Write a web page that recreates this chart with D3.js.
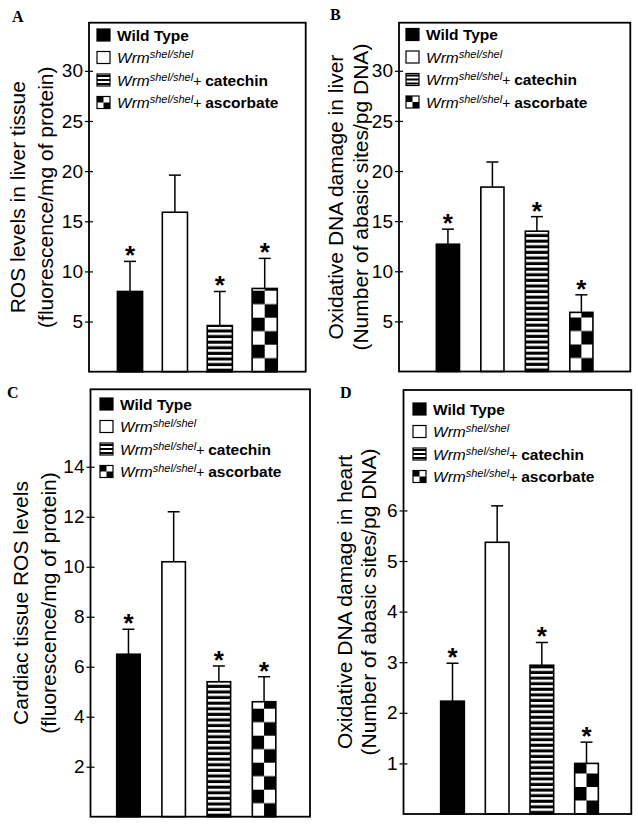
<!DOCTYPE html>
<html>
<meta charset="utf-8">
<head>
<title>ROS and oxidative DNA damage</title>
<script src="https://d3js.org/d3.v7.min.js"></script>
<style>
body { margin: 0; background: #fff; }
</style>
</head>
<body>
<div id="chart"></div>
<script>

// values
var groups = ["wt", "shel", "catechin", "ascorbate"];
var legendMain = ["Wild Type", "Wrm", "Wrm", "Wrm"];
var legendSup = ["", "shel/shel", "shel/shel", "shel/shel"];
var legendTail = ["", "", "catechin", "ascorbate"];

var liverRos = [8.0, 15.9, 4.6, 8.3];
var liverRosErr = [3.0, 3.7, 3.4, 3.0];
var liverDna = [12.7, 18.4, 14.0, 5.9];
var liverDnaErr = [1.5, 2.5, 1.45, 1.75];
var heartRos = [6.5, 10.2, 5.4, 4.6];
var heartRosErr = [1.0, 2.0, 0.63, 1.0];
var heartDna = [2.23, 5.37, 2.94, 1.0];
var heartDnaErr = [0.75, 0.72, 0.45, 0.42];
var starred = [true, false, true, true];

var liverTicks = [5, 10, 15, 20, 25, 30];
var heartRosTicks = [2, 4, 6, 8, 10, 12, 14];
var heartDnaTicks = [1, 2, 3, 4, 5, 6];

var panels = [
	{ id: "A", values: liverRos, err: liverRosErr, ticks: liverTicks, ymax: 34.8,
	  left: 89, top: 22.7, right: 305.7, bottom: 371.7, pi: 0.44, po: 0.633, align: 0.5,
	  label: ["ROS levels in liver tissue", "(fluorescence/mg of protein)"], labelX: [25, 53],
	  letter: [12, 22], legend: [97, 35] },
	{ id: "B", values: liverDna, err: liverDnaErr, ticks: liverTicks, ymax: 34.8,
	  left: 399, top: 22.7, right: 630.3, bottom: 371.5, pi: 0.48, po: 0.84, align: 0.5,
	  label: ["Oxidative DNA damage in liver", "(Number of abasic sites/pg DNA)"], labelX: [343, 368],
	  letter: [330, 20], legend: [406, 34.5] },
	{ id: "C", values: heartRos, err: heartRosErr, ticks: heartRosTicks, ymax: 17.1,
	  left: 90.5, top: 389.3, right: 310, bottom: 816.7, pi: 0.48, po: 0.668, align: 0.434,
	  label: ["Cardiac tissue ROS levels", "(fluorescence/mg of protein)"], labelX: [28, 56],
	  letter: [7, 398], legend: [100, 404] },
	{ id: "D", values: heartDna, err: heartDnaErr, ticks: heartDnaTicks, ymax: 8.38,
	  left: 403.5, top: 390, right: 631.3, bottom: 814, pi: 0.47, po: 0.785, align: 0.53,
	  label: ["Oxidative DNA damage in heart", "(Number of abasic sites/pg DNA)"], labelX: [352, 376],
	  letter: [340, 398], legend: [413, 409] }
];

var sans = "'Liberation Sans', Arial, sans-serif";
var stripeGap = 5.6;
var checkH = 13.5;

var svg = d3.select("#chart").append("svg")
	.attr("width", 638)
	.attr("height", 824);

var defs = svg.append("defs");

// small stripes for the legend swatch
var ls = defs.append("pattern").attr("id", "lstripe")
	.attr("patternUnits", "userSpaceOnUse")
	.attr("width", 4).attr("height", 4);
ls.append("rect").attr("width", 4).attr("height", 4).attr("fill", "#fff");
ls.append("rect").attr("width", 4).attr("height", 2).attr("fill", "#000");

panels.forEach(drawPanel);

function drawPanel(p){
	var x = d3.scaleBand()
		.domain(groups)
		.range([p.left, p.right])
		.paddingInner(p.pi)
		.paddingOuter(p.po)
		.align(p.align);

	var y = d3.scaleLinear()
		.domain([0, p.ymax])
		.range([p.bottom, p.top]);

	var bw = x.bandwidth();

	var sp = defs.append("pattern").attr("id", "stripe" + p.id)
		.attr("patternUnits", "userSpaceOnUse")
		.attr("x", 0).attr("y", y(0))
		.attr("width", 10).attr("height", stripeGap);
	sp.append("rect").attr("width", 10).attr("height", stripeGap).attr("fill", "#fff");
	sp.append("rect").attr("y", stripeGap * 0.45).attr("width", 10).attr("height", stripeGap * 0.55).attr("fill", "#000");

	var cp = defs.append("pattern").attr("id", "check" + p.id)
		.attr("patternUnits", "userSpaceOnUse")
		.attr("x", x(groups[3])).attr("y", y(0))
		.attr("width", bw).attr("height", 2 * checkH);
	cp.append("rect").attr("width", bw).attr("height", 2 * checkH).attr("fill", "#fff");
	cp.append("rect").attr("width", bw / 2).attr("height", checkH).attr("fill", "#000");
	cp.append("rect").attr("x", bw / 2).attr("y", checkH).attr("width", bw / 2).attr("height", checkH).attr("fill", "#000");

	var fills = ["#000", "#fff", "url(#stripe" + p.id + ")", "url(#check" + p.id + ")"];

	var g = svg.append("g").attr("id", "panel" + p.id);

	var rows = groups.map(function(k, i){
		return { key: k, v: p.values[i], e: p.err[i], star: starred[i], fill: fills[i] };
	});

	// bars
	g.selectAll(".bar")
		.data(rows)
		.enter()
		.append("rect")
		.attr("class", "bar")
		.attr("x", function(d){ return x(d.key); })
		.attr("y", function(d){ return y(d.v); })
		.attr("width", bw)
		.attr("height", function(d){ return y(0) - y(d.v); })
		.attr("fill", function(d){ return d.fill; })
		.attr("stroke", "#000")
		.attr("stroke-width", 1.6);

	// error bars, upper half only
	var eb = g.selectAll(".err")
		.data(rows)
		.enter()
		.append("g")
		.attr("class", "err")
		.attr("stroke", "#000")
		.attr("stroke-width", 1.5);
	eb.append("line")
		.attr("x1", function(d){ return x(d.key) + bw / 2; })
		.attr("x2", function(d){ return x(d.key) + bw / 2; })
		.attr("y1", function(d){ return y(d.v); })
		.attr("y2", function(d){ return y(d.v + d.e); });
	eb.append("line")
		.attr("x1", function(d){ return x(d.key) + bw / 2 - 6; })
		.attr("x2", function(d){ return x(d.key) + bw / 2 + 6; })
		.attr("y1", function(d){ return y(d.v + d.e); })
		.attr("y2", function(d){ return y(d.v + d.e); });

	g.selectAll(".star")
		.data(rows.filter(function(d){ return d.star; }))
		.enter()
		.append("text")
		.attr("class", "star")
		.attr("x", function(d){ return x(d.key) + bw / 2; })
		.attr("y", function(d){ return y(d.v + d.e) + 3; })
		.attr("text-anchor", "middle")
		.attr("font-family", sans)
		.attr("font-weight", "bold")
		.attr("font-size", 26)
		.text("*");

	// frame
	g.append("rect")
		.attr("x", p.left).attr("y", p.top)
		.attr("width", p.right - p.left)
		.attr("height", p.bottom - p.top)
		.attr("fill", "none")
		.attr("stroke", "#000")
		.attr("stroke-width", 1.8);

	var ax = g.append("g")
		.attr("transform", "translate(" + p.left + ",0)")
		.call(d3.axisLeft(y).tickValues(p.ticks).tickSize(4).tickPadding(2).tickFormat(d3.format("d")));
	ax.select(".domain").remove();
	ax.selectAll(".tick line").attr("x1", 4).attr("stroke-width", 1.2);
	ax.selectAll(".tick text")
		.attr("font-family", sans)
		.attr("font-size", 19)
		.attr("fill", "#000");

	// y label, two lines
	var cy = (p.top + p.bottom) / 2;
	p.label.forEach(function(t, i){
		g.append("text")
			.attr("transform", "translate(" + p.labelX[i] + "," + cy + ") rotate(-90)")
			.attr("text-anchor", "middle")
			.attr("font-family", sans)
			.attr("font-size", 21)
			.text(t);
	});

	g.append("text")
		.attr("x", p.letter[0]).attr("y", p.letter[1])
		.attr("font-family", "'Liberation Serif', 'Times New Roman', serif")
		.attr("font-weight", "bold")
		.attr("font-size", 16)
		.text(p.id);

	// legend
	var lg = g.append("g").attr("transform", "translate(" + p.legend[0] + "," + p.legend[1] + ")");
	groups.forEach(function(k, i){
		var ry = i * 22.5;
		if (i < 3) {
			lg.append("rect")
				.attr("x", 0).attr("y", ry - 6)
				.attr("width", 13).attr("height", 12)
				.attr("fill", i == 0 ? "#000" : i == 1 ? "#fff" : "url(#lstripe)")
				.attr("stroke", "#000").attr("stroke-width", 1.2);
		} else {
			lg.append("rect").attr("x", 0).attr("y", ry - 6).attr("width", 13).attr("height", 12)
				.attr("fill", "#fff").attr("stroke", "#000").attr("stroke-width", 1.2);
			lg.append("rect").attr("x", 0).attr("y", ry - 6).attr("width", 6.5).attr("height", 6).attr("fill", "#000");
			lg.append("rect").attr("x", 6.5).attr("y", ry).attr("width", 6.5).attr("height", 6).attr("fill", "#000");
		}
		var t = lg.append("text")
			.attr("x", 20).attr("y", ry + 5.5)
			.attr("font-family", sans)
			.attr("font-size", 15.5);
		if (i == 0) {
			t.append("tspan").attr("font-weight", "bold").text(legendMain[i]);
		} else {
			t.append("tspan").attr("font-style", "italic").text(legendMain[i]);
			t.append("tspan").attr("font-style", "italic").attr("font-size", 11).attr("dy", -5).text(legendSup[i]);
			if (legendTail[i]) {
				t.append("tspan").attr("font-size", 14).attr("dy", 5).text("+ ");
				t.append("tspan").attr("font-weight", "bold").text(legendTail[i]);
			}
		}
	});
}

</script>
</body>
</html>
